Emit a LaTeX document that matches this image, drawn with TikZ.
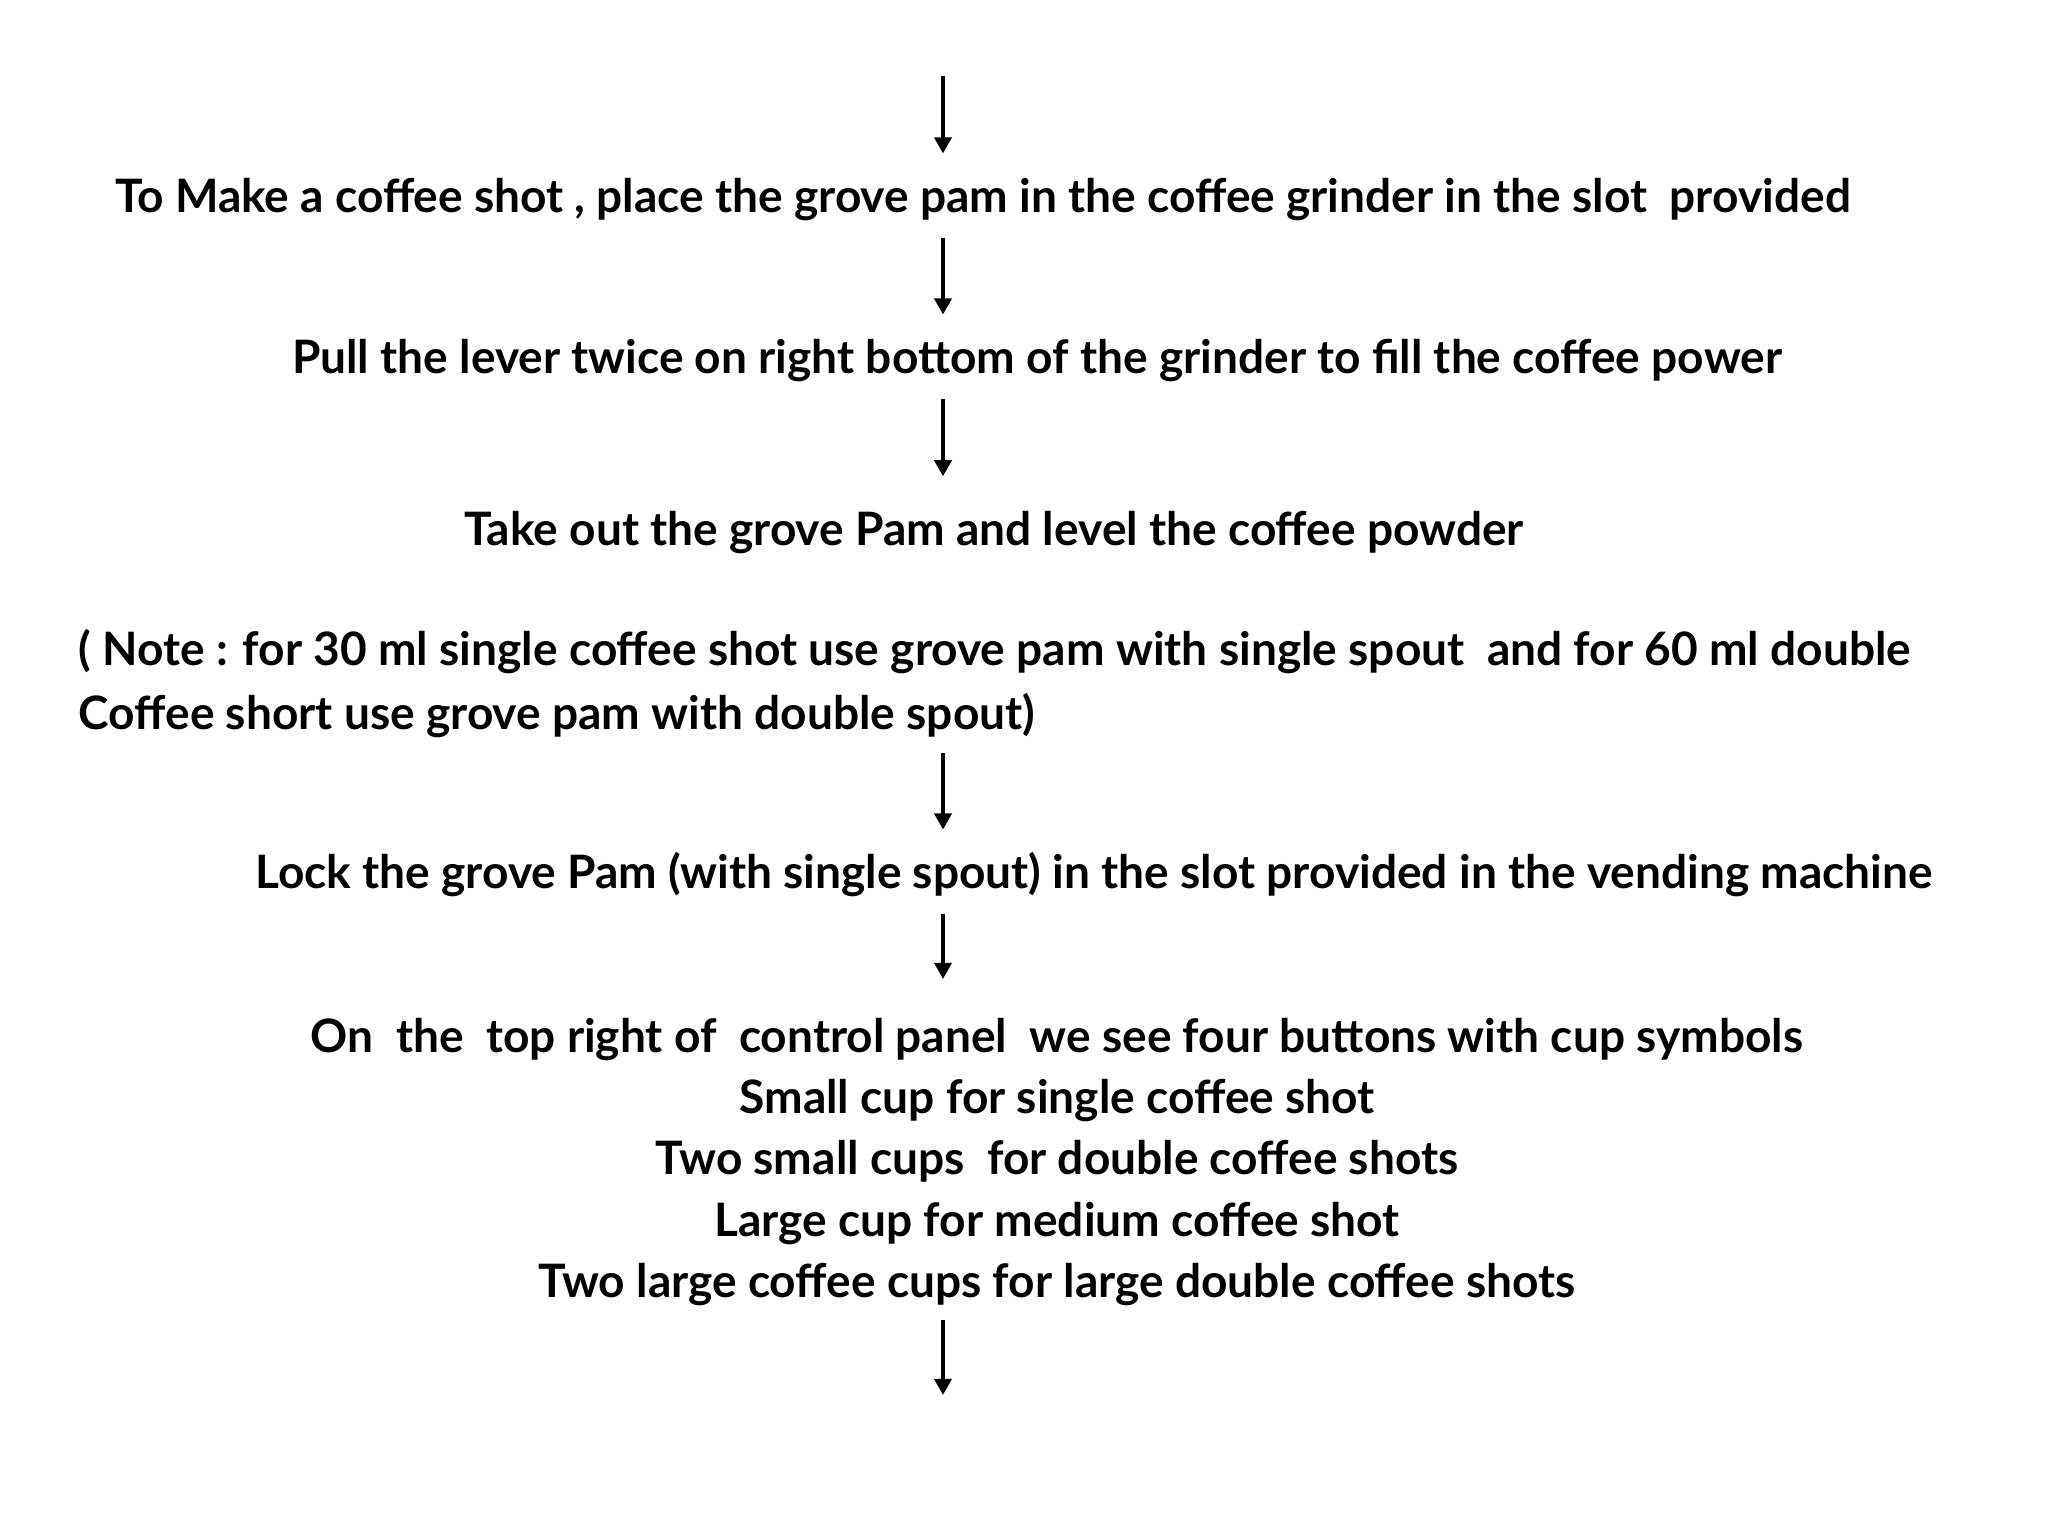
\documentclass[tikz,border=0pt]{standalone}
\usepackage{fontspec}
\setmainfont{Lato}
\usetikzlibrary{arrows.meta}

\tikzset{
  steptext/.style={font=\fontsize{13.1}{17.4}\selectfont\bfseries, inner sep=0pt, text height=10pt, text depth=3pt},
  multitext/.style={font=\fontsize{13.1}{17.4}\selectfont\bfseries, inner sep=0pt},
  flow/.style={-{Triangle[length=4.6pt,width=4.8pt]}, line width=1.15pt, shorten <=4pt, shorten >=4pt}
}

\begin{document}
\begin{tikzpicture}[x=0.01cm,y=-0.01cm]
    \useasboundingbox (0,0) rectangle (2048,1536);
    \coordinate (start) at (943,76);
    \coordinate (finish) at (943,1395);
    % steps
    \node[steptext] (grind) at (983,200) {To Make a coffee shot , place the grove pam in the coffee grinder in the slot\ \ provided};
    \node[steptext] (lever) at (1037,361) {Pull the lever twice on right bottom of the grinder to fill the coffee power};
    \node[steptext] (level) at (994,533) {Take out the grove Pam and level the coffee powder};
    \node[multitext, align=left, anchor=west, font=\fontsize{13.1}{18.2}\selectfont\bfseries] (note) at (78,684) {( Note : for 30 ml single coffee shot use grove pam with single spout\ \ and for 60 ml double\\Coffee short use grove pam with double spout)};
    \node[steptext] (lock) at (1094,876) {Lock the grove Pam (with single spout) in the slot provided in the vending machine};
    \node[multitext, align=center] (buttons) at (1057,1162) {On\ \ the\ \ top right of\ \ control panel\ \ we see four buttons with cup symbols\\Small cup for single coffee shot\\Two small cups\ \ for double coffee shots\\Large cup for medium coffee shot\\Two large coffee cups for large double coffee shots};
    % arrows
    \draw[flow, shorten <=0pt, shorten >=6.5pt] (start) -- (grind.north -| start);
    \draw[flow, shorten >=6.5pt] (grind.south -| start) -- (lever.north -| start);
    \draw[flow, shorten >=9.4pt] (lever.south -| start) -- (level.north -| start);
    \draw[flow, shorten >=6.5pt] (note.south -| start) -- (lock.north -| start);
    \draw[flow, shorten >=11pt] (lock.south -| start) -- (buttons.north -| start);
    \draw[flow, shorten >=0pt] (buttons.south -| start) -- (finish);
\end{tikzpicture}
\end{document}
